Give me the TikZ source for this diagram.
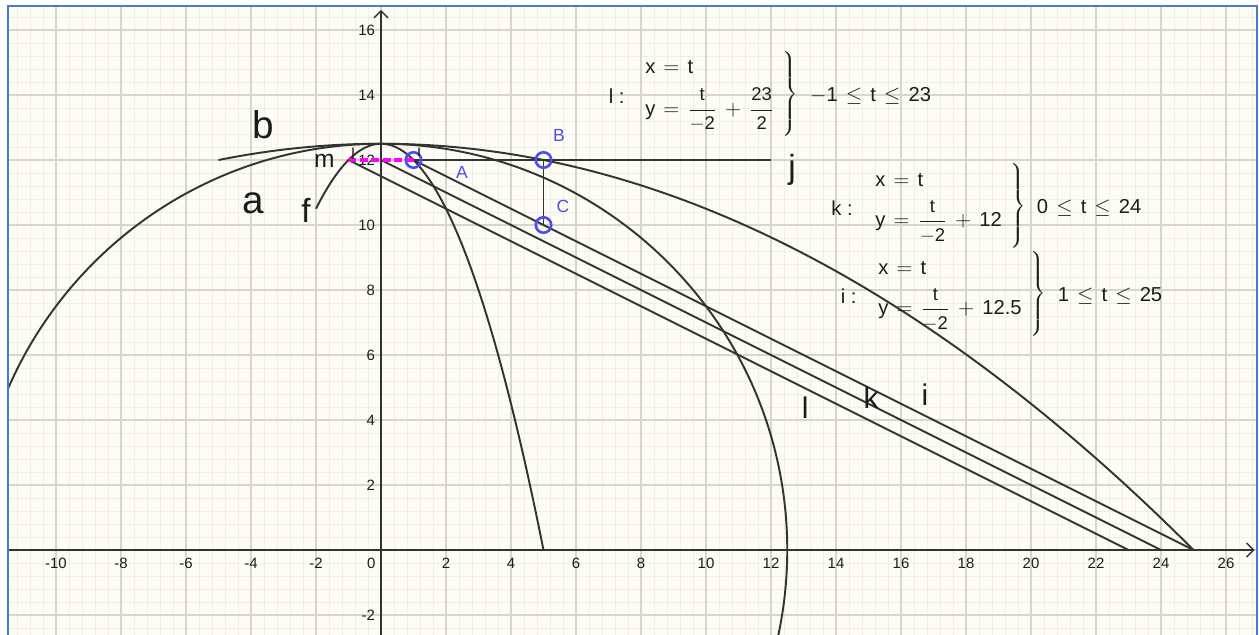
\documentclass[tikz,border=0pt]{standalone}
\usepackage{fontspec}
\setmainfont{Liberation Sans}
\usepackage{tikz}
\usepackage{xcolor}
\usetikzlibrary{arrows.meta,positioning}
\definecolor{Paper}{HTML}{FDFDF5}
\definecolor{Frame}{HTML}{4A7AD6}
\definecolor{GridMajor}{HTML}{D6D6CE}
\definecolor{GridMinor}{HTML}{EFEFE6}
\definecolor{Ink}{HTML}{1C1C1C}
\definecolor{Curve}{HTML}{333333}
\definecolor{PtBlue}{HTML}{4D4DF0}
\definecolor{Magenta}{HTML}{FF00FF}
\newcommand{\gfrac}[2]{\ensuremath{\displaystyle\frac{\hbox{\fontsize{10.5}{12}\selectfont#1}}{\hbox{\fontsize{10.5}{12}\selectfont#2}}}}
\newcommand{\eqsign}{\hspace{0.4em}$=$\hspace{0.4em}}
\newcommand{\plussign}{\hspace{0.4em}$+$\hspace{0.4em}}
\newcommand{\lesign}{\hspace{0.4em}$\le$\hspace{0.4em}}
\tikzset{
  curve/.style={draw=Curve,line width=1.1pt},
  axis/.style={draw=Curve,line width=0.8pt,-{Straight Barb[length=4pt,width=8pt]}},
  mseg/.style={draw=Magenta,line width=2pt,dash pattern=on 4.5pt off 2pt},
  pt/.style={circle,draw=PtBlue,line width=1.5pt,minimum size=0.31cm,inner sep=0pt},
  ptlbl/.style={text=PtBlue,font=\fontsize{10}{12}\selectfont,inner sep=0pt},
  ticklbl/.style={text=Ink,font=\fontsize{8.5}{10}\selectfont,inner sep=1pt},
  biglbl/.style={text=Ink,font=\fontsize{22}{24}\selectfont,inner sep=0pt},
  midlbl/.style={text=Ink,font=\fontsize{17}{20}\selectfont,inner sep=0pt},
  smalllbl/.style={text=Ink,font=\fontsize{9}{10}\selectfont,inner sep=0pt},
  eqn/.style={text=Ink,font=\fontsize{11.5}{14}\selectfont,inner sep=0pt,align=left},
  brc/.style={text=Ink,font=\fontsize{15}{17}\selectfont,inner sep=0pt}
}

\begin{document}
\begin{tikzpicture}[x=0.65cm,y=0.65cm]
  \useasboundingbox (-11.723,-2.615) rectangle (27.015,16.923);
  \fill[white] (-11.723,-2.615) rectangle (27.015,16.923);
  \begin{scope}
    \clip (-11.48,-2.615) rectangle (26.95,16.74);
    \fill[Paper] (-11.48,-2.615) rectangle (26.95,16.74);
    \draw[GridMinor,line width=0.45pt,step=0.4] (-12,-3.2) grid (27.2,17.2);
    \draw[GridMajor,line width=0.6pt,step=2] (-12,-4) grid (28,18);
    % axes
    \coordinate (xleft) at (-11.48,0);
    \coordinate (xright) at (26.88,0);
    \coordinate (ybottom) at (0,-2.615);
    \coordinate (ytop) at (0,16.62);
    \draw[axis] (xleft) -- (xright);
    \draw[axis] (ybottom) -- (ytop);
    % curves a, b, f
    \draw[curve] (0,0) circle[radius=12.5];
    \draw[curve] plot[domain=-5:25,samples=150] (\x,{12.5-(\x)^2/50});
    \draw[curve] plot[domain=-2:5,samples=80] (\x,{12.5-(\x)^2/2});
  \end{scope}
  \draw[Frame,line width=1.2pt] (-11.48,-2.615) -- (-11.48,16.74) -- (26.95,16.74) -- (26.95,-2.615);

  % tick labels
  \foreach \x in {-10,-8,...,-2}
    \node[ticklbl] (xt\x) at (\x,-0.4) {\x};
  \foreach \x in {2,4,...,26}
    \node[ticklbl] (xt\x) at (\x,-0.4) {\x};
  \node[ticklbl] (xt0) at (-0.3,-0.4) {0};
  \foreach \y in {2,4,...,16}
    \node[ticklbl,anchor=east] (yt\y) at (-0.12,\y) {\y};
  \node[ticklbl,anchor=east] (ytm2) at (-0.12,-2) {-2};

  % lines l, k, i, j, m and segment BC
  \coordinate (lstart) at (-1,12);
  \coordinate (kstart) at (0,12);
  \coordinate (Apos) at (1,12);
  \coordinate (Bpos) at (5,12);
  \coordinate (Cpos) at (5,10);
  \coordinate (lend) at (23,0);
  \coordinate (kend) at (24,0);
  \coordinate (iend) at (25,0);
  \coordinate (jend) at (12,12);
  \draw[curve] (lstart) -- (lend);
  \draw[curve] (kstart) -- (kend);
  \draw[curve] (Apos) -- (iend);
  \draw[curve] (Apos) -- (jend);
  \draw[curve] (Bpos) -- (Cpos);
  \draw[mseg] (lstart) -- (Apos);
  \node[pt] (A) at (Apos) {};
  \node[pt] (B) at (Bpos) {};
  \node[pt] (C) at (Cpos) {};
  \node[ptlbl] (Alabel) at (2.49,11.63) {A};
  \node[ptlbl] (Blabel) at (5.48,12.77) {B};
  \node[ptlbl] (Clabel) at (5.60,10.58) {C};

  % object labels
  \node[biglbl] (blabel) at (-3.63,13.08) {b};
  \node[biglbl] (alabel) at (-3.94,10.68) {a};
  \node[midlbl,font=\fontsize{19}{22}\selectfont] (flabel) at (-2.31,10.46) {f};
  \node[midlbl,font=\fontsize{14}{16}\selectfont] (mlabel) at (-1.74,11.97) {m};
  \node[midlbl,font=\fontsize{19}{22}\selectfont] (jlabel) at (12.65,11.69) {j};
  \node[midlbl] (llabel) at (13.05,4.37) {l};
  \node[midlbl] (klabel) at (15.08,4.68) {k};
  \node[midlbl] (ilabel) at (16.74,4.77) {i};
  \node[smalllbl] (lsmall) at (-0.86,12.18) {l};
  \node[smalllbl] (ismall) at (1.17,12.28) {i};

  % parametric forms
  \node[eqn,anchor=west] (lsys) at (8.12,13.97) {x\eqsign t\\[7pt]y\eqsign\gfrac{t}{$-$2}\plussign\gfrac{23}{2}};
  \node[eqn,left=0.4cm of lsys] (lname) {l :};
  \node[brc,right=0.12cm of lsys] (lbrace) {$\left.\rule[-0.8cm]{0pt}{1.6cm}\right\}$};
  \node[eqn,right=0.22cm of lbrace] (lrange) {$-$1\lesign t\lesign 23};

  \node[eqn,anchor=west] (ksys) at (15.2,10.52) {x\eqsign t\\[7pt]y\eqsign\gfrac{t}{$-$2}\plussign 12};
  \node[eqn,left=0.44cm of ksys] (kname) {k :};
  \node[brc,right=0.12cm of ksys] (kbrace) {$\left.\rule[-0.8cm]{0pt}{1.6cm}\right\}$};
  \node[eqn,right=0.2cm of kbrace] (krange) {0\lesign t\lesign 24};

  \node[eqn,anchor=west] (isys) at (15.29,7.82) {x\eqsign t\\[7pt]y\eqsign\gfrac{t}{$-$2}\plussign 12.5};
  \node[eqn,left=0.42cm of isys] (iname) {i :};
  \node[brc,right=0.12cm of isys] (ibrace) {$\left.\rule[-0.8cm]{0pt}{1.6cm}\right\}$};
  \node[eqn,right=0.22cm of ibrace] (irange) {1\lesign t\lesign 25};
\end{tikzpicture}
\end{document}
